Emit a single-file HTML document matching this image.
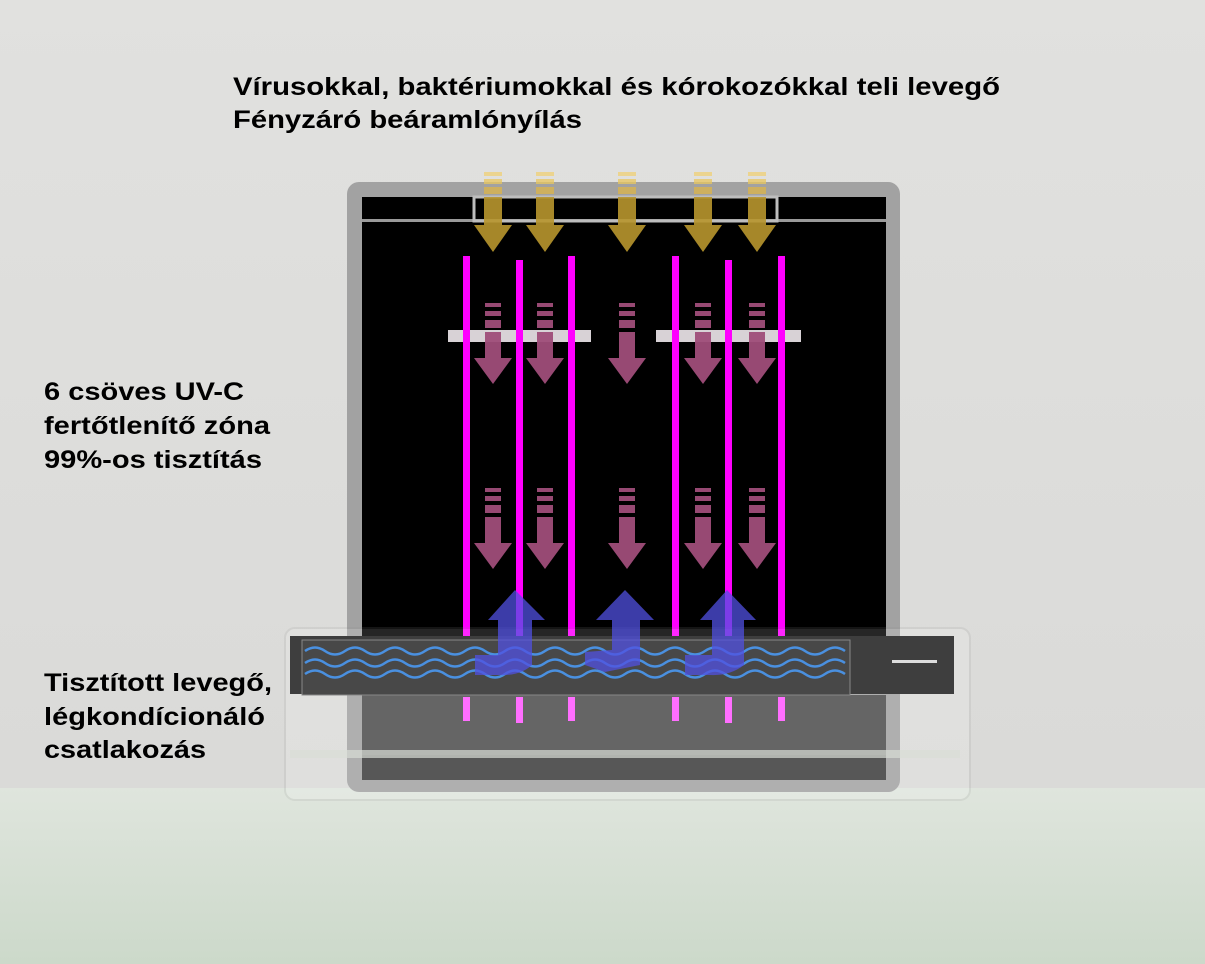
<!DOCTYPE html>
<html><head><meta charset="utf-8"><style>
html,body{margin:0;padding:0;width:1205px;height:964px;overflow:hidden;background:#e0e0de}
svg{display:block}
text{font-family:"Liberation Sans",sans-serif;font-weight:bold;font-size:25px;fill:#000}
</style></head><body>
<svg width="1205" height="964" viewBox="0 0 1205 964" xmlns="http://www.w3.org/2000/svg">
<defs>
<linearGradient id="wall" x1="0" y1="0" x2="0" y2="1"><stop offset="0" stop-color="#e1e1df"/><stop offset="1" stop-color="#dadad8"/></linearGradient>
<linearGradient id="floor" x1="0" y1="0" x2="0" y2="1"><stop offset="0" stop-color="#dfe5dd"/><stop offset="1" stop-color="#ccd9ca"/></linearGradient>
<g id="gold">
 <rect x="-9" y="0" width="18" height="4" fill="#f0d070" opacity="0.8"/>
 <rect x="-9" y="7" width="18" height="5" fill="#e8c760" opacity="0.85"/>
 <rect x="-9" y="15" width="18" height="7" fill="#d8b450" opacity="0.9"/>
 <rect x="-9" y="25" width="18" height="28" fill="#b8962e"/>
 <polygon points="-19,53 19,53 0,80" fill="#b8962e"/>
</g>
<g id="pink">
 <rect x="-8" y="0" width="16" height="4" fill="#a04d7a"/>
 <rect x="-8" y="8" width="16" height="5" fill="#a04d7a"/>
 <rect x="-8" y="17" width="16" height="8" fill="#a04d7a"/>
 <rect x="-8" y="29" width="16" height="26" fill="#a04d7a"/>
 <polygon points="-19,55 19,55 0,81" fill="#a04d7a"/>
</g>
</defs>
<rect x="0" y="0" width="1205" height="790" fill="url(#wall)"/>
<rect x="0" y="788" width="1205" height="176" fill="url(#floor)"/>
<text x="233" y="95" textLength="767" lengthAdjust="spacingAndGlyphs">Vírusokkal, baktériumokkal és kórokozókkal teli levegő</text>
<text x="233" y="128" textLength="349" lengthAdjust="spacingAndGlyphs">Fényzáró beáramlónyílás</text>
<text x="44" y="400" textLength="200" lengthAdjust="spacingAndGlyphs">6 csöves UV-C</text>
<text x="44" y="434" textLength="226" lengthAdjust="spacingAndGlyphs">fertőtlenítő zóna</text>
<text x="44" y="468" textLength="218" lengthAdjust="spacingAndGlyphs">99%-os tisztítás</text>
<text x="44" y="691" textLength="228" lengthAdjust="spacingAndGlyphs">Tisztított levegő,</text>
<text x="44" y="725" textLength="221" lengthAdjust="spacingAndGlyphs">légkondícionáló</text>
<text x="44" y="758" textLength="162" lengthAdjust="spacingAndGlyphs">csatlakozás</text>
<!-- cabinet -->
<rect x="347" y="182" width="553" height="610" rx="12" fill="#a2a2a2"/>
<rect x="362" y="197" width="524" height="443" fill="#000"/>
<rect x="362" y="219" width="524" height="3" fill="#9a9a9a"/>
<rect x="474" y="197" width="303" height="24" fill="none" stroke="#bdbdbd" stroke-width="3"/>
<rect x="362" y="695" width="524" height="85" fill="#4a4a4a"/>
<rect x="362" y="755" width="524" height="25" fill="#3a3a3a"/>
<rect x="448" y="330" width="143" height="12" fill="#d8d2d6"/>
<rect x="656" y="330" width="145" height="12" fill="#d8d2d6"/>
<g opacity="0.9">
<use href="#gold" x="493" y="172"/><use href="#gold" x="545" y="172"/><use href="#gold" x="627" y="172"/><use href="#gold" x="703" y="172"/><use href="#gold" x="757" y="172"/>
</g>
<g opacity="0.95">
<use href="#pink" x="493" y="303"/><use href="#pink" x="545" y="303"/><use href="#pink" x="627" y="303"/><use href="#pink" x="703" y="303"/><use href="#pink" x="757" y="303"/>
<use href="#pink" x="493" y="488"/><use href="#pink" x="545" y="488"/><use href="#pink" x="627" y="488"/><use href="#pink" x="703" y="488"/><use href="#pink" x="757" y="488"/>
</g>
<g fill="#ff00ff">
<rect x="463" y="256" width="7" height="384"/><rect x="516" y="260" width="7" height="380"/><rect x="568" y="256" width="7" height="384"/>
<rect x="672" y="256" width="7" height="384"/><rect x="725" y="260" width="7" height="380"/><rect x="778" y="256" width="7" height="384"/>
</g>
<g fill="#ff55ff">
<rect x="463" y="697" width="7" height="24"/><rect x="516" y="697" width="7" height="26"/><rect x="568" y="697" width="7" height="24"/>
<rect x="672" y="697" width="7" height="24"/><rect x="725" y="697" width="7" height="26"/><rect x="778" y="697" width="7" height="24"/>
</g>
<rect x="285" y="628" width="685" height="172" rx="10" fill="#ffffff" opacity="0.15" stroke="#8a8a8a" stroke-width="2"/>
<rect x="290" y="636" width="664" height="58" fill="#3e3e3e"/>
<rect x="302" y="640" width="548" height="55" fill="#484848" stroke="#888" stroke-width="1"/>
<rect x="892" y="660" width="45" height="3" fill="#ddd"/>
<rect x="290" y="750" width="670" height="8" fill="#d8ddd6" opacity="0.7"/>
<g fill="none" stroke="#4a90e0" stroke-width="2.5">
<path d="M305 651 q10 -7 20 0 t20 0 t20 0 t20 0 t20 0 t20 0 t20 0 t20 0 t20 0 t20 0 t20 0 t20 0 t20 0 t20 0 t20 0 t20 0 t20 0 t20 0 t20 0 t20 0 t20 0 t20 0 t20 0 t20 0 t20 0 t20 0 t20 0"/>
<path d="M305 663 q10 -7 20 0 t20 0 t20 0 t20 0 t20 0 t20 0 t20 0 t20 0 t20 0 t20 0 t20 0 t20 0 t20 0 t20 0 t20 0 t20 0 t20 0 t20 0 t20 0 t20 0 t20 0 t20 0 t20 0 t20 0 t20 0 t20 0 t20 0"/>
<path d="M305 674 q10 -7 20 0 t20 0 t20 0 t20 0 t20 0 t20 0 t20 0 t20 0 t20 0 t20 0 t20 0 t20 0 t20 0 t20 0 t20 0 t20 0 t20 0 t20 0 t20 0 t20 0 t20 0 t20 0 t20 0 t20 0 t20 0 t20 0 t20 0"/>
</g>
<g fill="#5050e0" opacity="0.75">
<path d="M498 620 L488 620 L515 590 L545 620 L532 620 L532 665 Q520 676 500 675 L475 675 L475 655 L498 655 Z"/>
<path d="M612 620 L596 620 L625 590 L654 620 L640 620 L640 665 L605 672 L585 665 L585 652 L612 650 Z"/>
<path d="M712 620 L700 620 L727 590 L756 620 L744 620 L744 665 Q730 676 710 675 L685 675 L685 655 L712 655 Z"/>
</g>
</svg>
</body></html>
